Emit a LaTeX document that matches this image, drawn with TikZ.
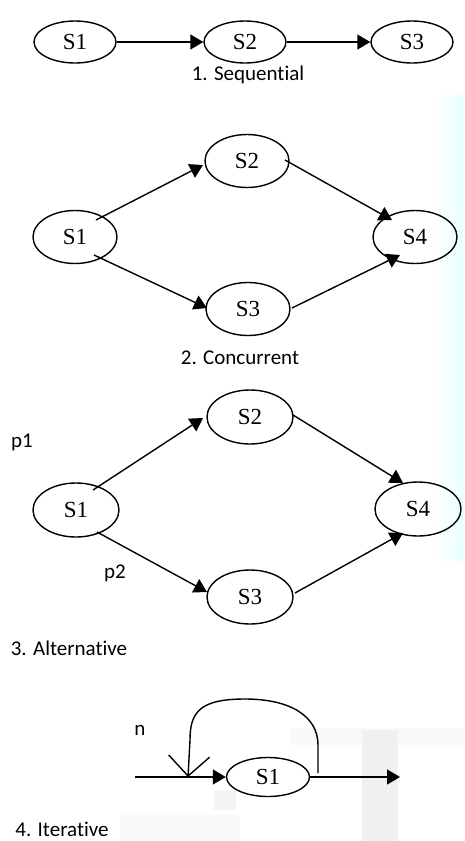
\documentclass[tikz,border=0pt]{standalone}
\usepackage{fontspec}
\setmainfont{Liberation Serif}
\newfontfamily\calfont[Ligatures=NoCommon]{Carlito}
\usetikzlibrary{arrows.meta,calc,shapes.geometric}
\begin{document}
\begin{tikzpicture}[x=1pt,y=-1pt,
  st/.style={ellipse,draw,line width=1.4pt,inner sep=0pt,minimum width=82pt,minimum height=42pt,font=\fontsize{23}{27}\selectfont},
  stb/.style={st,minimum width=84pt,minimum height=53pt},
  stc/.style={st,minimum width=86pt,minimum height=54pt},
  arr/.style={line width=1.4pt,-{Triangle[length=13pt,width=15pt]}},
  lbl/.style={font=\calfont\fontsize{21}{25}\selectfont,inner sep=0pt},
  blot/.style={fill=gray!8,draw=none},
]
\useasboundingbox (0,0) rectangle (464,841);
% faint background artefacts
\shade[left color=white,right color=cyan!9,draw=none] (432,95) rectangle (464,560);
\fill[blot,fill=gray!5] (290,728) rectangle (464,745);
\fill[blot,fill=gray!12] (362,730) rectangle (398,841);
\fill[blot] (214,790) rectangle (236,810);
\fill[blot,fill=gray!5] (120,815) rectangle (240,841);

% 1. Sequential
\node[st] (a1) at (75,42) {S1};
\node[st] (a2) at (245,42) {S2};
\node[st] (a3) at (412,42) {S3};
\draw[arr] (a1) -- (a2);
\draw[arr] (a2) -- (a3);
\node[lbl] (t1) at (248,75) {1. Sequential};

% 2. Concurrent
\node[stb] (b1) at (75,237) {S1};
\node[stb] (b2) at (247,161) {S2};
\node[stb] (b3) at (248,309) {S3};
\node[stb] (b4) at (415,237) {S4};
\draw[arr] ($(b1)+(21,-17)$) -- ($(b2)+(-44,4)$);
\draw[arr] ($(b1)+(19,18)$) -- ($(b3)+(-41,-1)$);
\draw[arr] ($(b2)+(38,-1)$) -- ($(b4)+(-23,-17)$);
\draw[arr] ($(b3)+(44,-1)$) -- ($(b4)+(-15,18)$);
\node[lbl] (t2) at (240,358) {2. Concurrent};

% 3. Alternative
\node[stc] (c1) at (76,510) {S1};
\node[stc] (c2) at (250,417) {S2};
\node[stc] (c3) at (250,597) {S3};
\node[stc] (c4) at (418,509) {S4};
\draw[arr] ($(c1)+(17,-20)$) -- ($(c2)+(-47,1)$);
\draw[arr] ($(c1)+(21,22)$) -- ($(c3)+(-43,-5)$);
\draw[arr] ($(c2)+(43,-2)$) -- ($(c4)+(-15,-26)$);
\draw[arr] ($(c3)+(45,-4)$) -- ($(c4)+(-15,24)$);
\node[lbl] (p1) at (22,442) {p1};
\node[lbl] (p2) at (115,573) {p2};
\node[lbl] (t3) at (69,648) {3. Alternative};

% 4. Iterative
\node[st,minimum width=83pt,minimum height=39pt] (d1) at (268,777) {S1};
\coordinate (din) at (135,777);
\coordinate (dout) at (400,777);
\coordinate (dloop) at (318,773);
\coordinate (dback) at (188,777);
\draw[arr] (din) -- (d1);
\draw[arr] (d1) -- (dout);
\draw[line width=1.4pt,-{Straight Barb[length=20pt,width=41pt,line width=1.4pt]}]
  (dloop) -- (318,745) .. controls (318,716) and (290,699) .. (245,699)
  .. controls (200,699) and (190,712) .. (190,740) -- (dback);
\node[lbl] (n) at (140,730) {n};
\node[lbl] (t4) at (62,829) {4. Iterative};
\end{tikzpicture}
\end{document}
